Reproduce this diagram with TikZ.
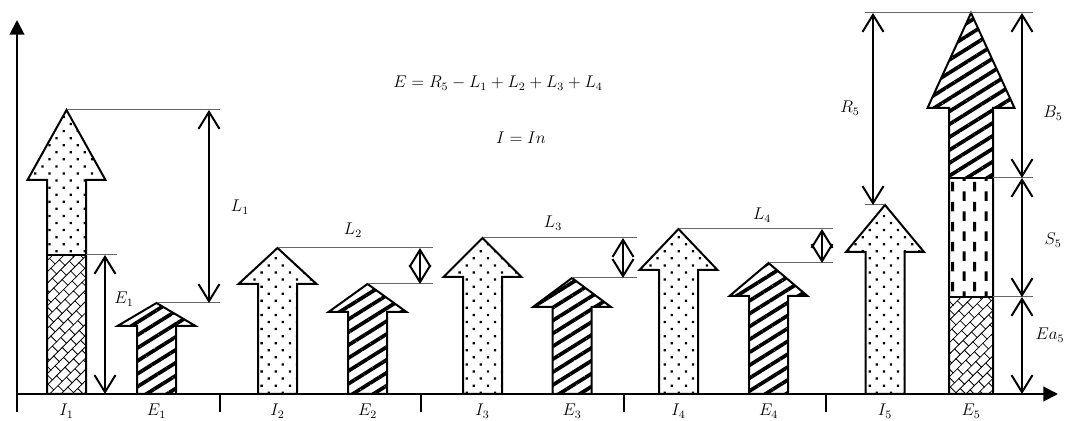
\documentclass[tikz,border=0pt]{standalone}
\usepackage{amsmath}
\usetikzlibrary{arrows.meta,patterns.meta}

% brick-like cross hatching
\tikzdeclarepattern{
  name=bricks,
  type=uncolored,
  bounding box={(-0.5pt,-0.5pt) and (9.5pt,12.5pt)},
  tile size={(9pt,12pt)},
  tile transformation={rotate=45},
  code={
    \draw[line width=0.6pt] (-0.5pt,0pt) -- (9.5pt,0pt) (-0.5pt,6pt) -- (9.5pt,6pt)
      (0pt,0pt) -- (0pt,6pt) (4.5pt,6pt) -- (4.5pt,12pt);
  }
}
% short vertical dashes
\tikzdeclarepattern{
  name=vdashes,
  type=uncolored,
  bounding box={(0pt,0pt) and (16pt,15pt)},
  tile size={(16pt,15pt)},
  code={
    \fill (2pt,0pt) rectangle (4.2pt,7.5pt)
          (10pt,7.5pt) rectangle (12.2pt,15pt);
  }
}

\tikzset{
  axis/.style={line width=1.5pt},
  outline/.style={draw, line width=1.5pt, line join=miter},
  guide/.style={black!60, line width=0.75pt},
  dim/.style={line width=1.5pt,
    {Straight Barb[length=12.75pt,width=15.75pt]}-{Straight Barb[length=12.75pt,width=15.75pt]}},
  dotfill/.style={pattern={Dots[radius=1.2pt,distance=7.5pt,angle=45]}},
  stripefill/.style={pattern={Lines[angle=32,distance=8.2pt,line width=2.8pt]}},
  brickfill/.style={pattern=bricks},
  dashfill/.style={pattern=vdashes},
  lbl/.style={font=\large, transform shape, scale=1.06},
}

% [style]{tip name}{x}{head base}{tip}{shaft half width}{head half width}
\newcommand{\bigarrow}[7][]{%
  \coordinate (#2) at (#3,#5);
  \path[#1] ({#3-#6},0) -- ({#3-#6},#4) -- ({#3-#7},#4) -- (#3,#5)
    -- ({#3+#7},#4) -- ({#3+#6},#4) -- ({#3+#6},0) -- cycle;}

\begin{document}
\begin{tikzpicture}[x=0.75pt,y=0.75pt]
  \useasboundingbox (0,-27) rectangle (1075,394);

  % Axes
  \draw[axis,-{Triangle[length=11pt,width=11pt]}] (17,-18) -- (17,374);
  \draw[axis,-{Triangle[length=11pt,width=11pt]}] (17,0) -- (1058,0);
  \foreach \x in {220,421,624,826}
    \draw[line width=1.1pt] (\x,0) -- (\x,-18);

  % I1 (dots over bricks)
  \bigarrow[dotfill]{tI1}{66.5}{214}{284}{19.5}{39}
  \fill[white] (47,0) rectangle (86,139);
  \path[brickfill] (47,0) rectangle (86,139);
  \bigarrow[outline]{tI1}{66.5}{214}{284}{19.5}{39}
  \coordinate (sI1) at (86,139);
  \draw[outline] (47,139) -- (sI1);

  % I2 .. I5 (dots)
  \foreach \n/\x/\b/\t in {I2/277.5/110/146,I3/482.5/117/156,I4/678.5/124/165,I5/885/142/189}
    {\bigarrow[outline,dotfill]{t\n}{\x}{\b}{\t}{19.5}{39}}

  % E1 .. E4 (stripes)
  \foreach \n/\x/\b/\t in {E1/156.5/68/91,E2/367.5/82/110,E3/572/87/116,E4/768.5/98/131}
    {\bigarrow[outline,stripefill]{t\n}{\x}{\b}{\t}{19.5}{39}}

  % E5 (stripes, dashes, bricks)
  \bigarrow[stripefill]{tE5}{971}{286}{381}{22}{43.5}
  \fill[white] (949,0) rectangle (993,216);
  \path[dashfill] (949,97) rectangle (993,216);
  \path[brickfill] (949,0) rectangle (993,97);
  \bigarrow[outline]{tE5}{971}{286}{381}{22}{43.5}
  \coordinate (sB5) at (993,216);
  \coordinate (sS5) at (993,97);
  \draw[outline] (949,216) -- (sB5) (949,97) -- (sS5);

  % Guide lines
  \draw[guide] (tI1) -- (220,0 |- tI1);
  \draw[guide] (tE1) -- (220,0 |- tE1);
  \draw[guide] (sI1) -- (117,0 |- sI1);
  \foreach \a/\b/\e in {tI2/tE2/433,tI3/tE3/637,tI4/tE4/833}
    {\draw[guide] (\a) -- (\e,0 |- \a) (\b) -- (\e,0 |- \b);}
  \draw[guide] (865,0 |- tI5) -- (tI5);
  \draw[guide] (865,0 |- tE5) -- (1033,0 |- tE5);
  \draw[guide] (sB5) -- (1033,0 |- sB5) (sS5) -- (1033,0 |- sS5);

  % Dimension arrows
  \draw[dim] (209,0 |- tI1) -- (209,0 |- tE1);
  \draw[dim] (105,0 |- sI1) -- (105,0);
  \draw[dim] (420,0 |- tI2) -- (420,0 |- tE2);
  \draw[dim] (623,0 |- tI3) -- (623,0 |- tE3);
  \draw[dim] (822,0 |- tI4) -- (822,0 |- tE4);
  \draw[dim] (873,0 |- tE5) -- (873,0 |- tI5);
  \draw[dim] (1022,0 |- tE5) -- (1022,0 |- sB5);
  \draw[dim] (1022,0 |- sB5) -- (1022,0 |- sS5);
  \draw[dim] (1022,0 |- sS5) -- (1022,0);

  % Labels
  \node[lbl] (lblL1) at (240,187) {$L_1$};
  \node[lbl] (lblE1) at (124,95) {$E_1$};
  \node[lbl] (lblL2) at (353,164) {$L_2$};
  \node[lbl] (lblL3) at (553,171) {$L_3$};
  \node[lbl] (lblL4) at (762,179) {$L_4$};
  \node[lbl] (lblR5) at (850,286) {$R_5$};
  \node[lbl] (lblB5) at (1053,281) {$B_5$};
  \node[lbl] (lblS5) at (1053,154) {$S_5$};
  \node[lbl] (lblEa5) at (1050,59) {$Ea_5$};
  \node[lbl] (eqE) at (498,311) {$E = R_5 - L_1 + L_2 + L_3 + L_4$};
  \node[lbl] (eqI) at (521,256) {$I = In$};
  \foreach \n/\x/\t in {I1/66.5/I_1,E1/156.5/E_1,I2/277.5/I_2,E2/367.5/E_2,I3/482.5/I_3,
      E3/572/E_3,I4/678.5/I_4,E4/768.5/E_4,I5/885/I_5,E5/971/E_5}
    \node[lbl,anchor=base] (lbl\n) at (\x,-22) {$\t$};
\end{tikzpicture}
\end{document}
